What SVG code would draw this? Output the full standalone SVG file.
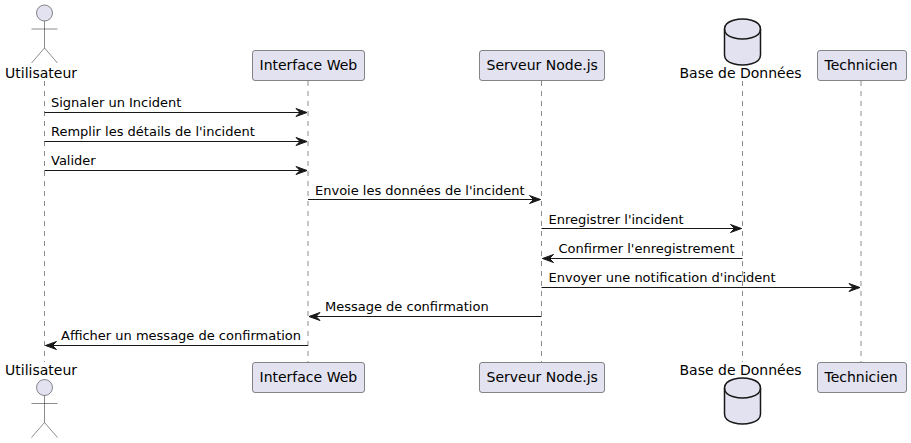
<svg xmlns="http://www.w3.org/2000/svg" width="911" height="443" viewBox="0 0 911 443">
<style>
text{font-family:"DejaVu Sans",sans-serif;fill:#000}
.n{font-size:14px}
.m{font-size:13px}
.life{stroke:#181818;stroke-width:.5;stroke-dasharray:5 5;fill:none}
.box{fill:#E2E2F0;stroke:#181818;stroke-width:.5}
.actor{fill:#E2E2F0;stroke:#181818;stroke-width:.5}
.db{fill:#E2E2F0;stroke:#181818;stroke-width:1.5}
.dbl{fill:none;stroke:#181818;stroke-width:1.5}
.msg{stroke:#181818;stroke-width:1;fill:none}
.head{fill:#181818;stroke:#181818;stroke-width:1}
</style>
<defs>
<path id="ar" class="head" d="M-11,-4L0,0L-11,4L-7,0Z"/>
<path id="al" class="head" d="M11,-4L0,0L11,4L7,0Z"/>
<g id="fig"><circle class="actor" cx="0" cy="0" r="8"/><path class="actor" d="M0,8V35M-13,16H13M0,35L-13,50M0,35L13,50"/></g>
<g id="cyl"><path class="db" d="M0,10C0,0 18,0 18,0C18,0 36,0 36,10V36C36,46 18,46 18,46C18,46 0,46 0,36Z"/><path class="dbl" d="M0,10C0,20 18,20 18,20C18,20 36,20 36,10"/></g>
</defs>
<g id="lifelines">
<path class="life" d="M44.5,81V362M308,81V362M541.5,81V362M742.5,81V362M861,81V362"/>
</g>
<g id="connectors">
<path class="msg" d="M44.5,112.5H307"/><use href="#ar" x="307" y="112.5"/>
<text class="m" x="51" y="107">Signaler un Incident</text>
<path class="msg" d="M44.5,141.5H307"/><use href="#ar" x="307" y="141.5"/>
<text class="m" x="51" y="136">Remplir les détails de l'incident</text>
<path class="msg" d="M44.5,170.5H307"/><use href="#ar" x="307" y="170.5"/>
<text class="m" x="51" y="165">Valider</text>
<path class="msg" d="M308,199.5H540.5"/><use href="#ar" x="540.5" y="199.5"/>
<text class="m" x="315" y="195">Envoie les données de l'incident</text>
<path class="msg" d="M541.5,228.5H741.5"/><use href="#ar" x="741.5" y="228.5"/>
<text class="m" x="548.5" y="224">Enregistrer l'incident</text>
<path class="msg" d="M542.5,258.5H742.5"/><use href="#al" x="542.5" y="258.5"/>
<text class="m" x="558.5" y="253">Confirmer l'enregistrement</text>
<path class="msg" d="M541.5,287.5H860"/><use href="#ar" x="860" y="287.5"/>
<text class="m" x="548.5" y="282">Envoyer une notification d'incident</text>
<path class="msg" d="M309,316.5H541.5"/><use href="#al" x="309" y="316.5"/>
<text class="m" x="325" y="311">Message de confirmation</text>
<path class="msg" d="M45.5,345.5H308"/><use href="#al" x="45.5" y="345.5"/>
<text class="m" x="61" y="340">Afficher un message de confirmation</text>
</g>
<g id="utilisateur-top"><use href="#fig" x="44.5" y="13"/><text class="n" x="5" y="78">Utilisateur</text></g>
<g id="utilisateur-bottom"><use href="#fig" x="44.5" y="387.5"/><text class="n" x="5" y="375">Utilisateur</text></g>
<g id="interface-top"><rect class="box" x="252.5" y="50.5" width="112" height="30" rx="2.5"/><text class="n" x="259.5" y="70">Interface Web</text></g>
<g id="interface-bottom"><rect class="box" x="252.5" y="362.5" width="112" height="30" rx="2.5"/><text class="n" x="259.5" y="382">Interface Web</text></g>
<g id="serveur-top"><rect class="box" x="479.5" y="50.5" width="125" height="30" rx="2.5"/><text class="n" x="486.5" y="70">Serveur Node.js</text></g>
<g id="serveur-bottom"><rect class="box" x="479.5" y="362.5" width="125" height="30" rx="2.5"/><text class="n" x="486.5" y="382">Serveur Node.js</text></g>
<g id="base-top"><use href="#cyl" x="724.5" y="19"/><text class="n" x="679.5" y="78">Base de Données</text></g>
<g id="base-bottom"><use href="#cyl" x="724.5" y="378"/><text class="n" x="679.5" y="375">Base de Données</text></g>
<g id="technicien-top"><rect class="box" x="817.5" y="50.5" width="89" height="30" rx="2.5"/><text class="n" x="824.5" y="70">Technicien</text></g>
<g id="technicien-bottom"><rect class="box" x="817.5" y="362.5" width="89" height="30" rx="2.5"/><text class="n" x="824.5" y="382">Technicien</text></g>
</svg>
